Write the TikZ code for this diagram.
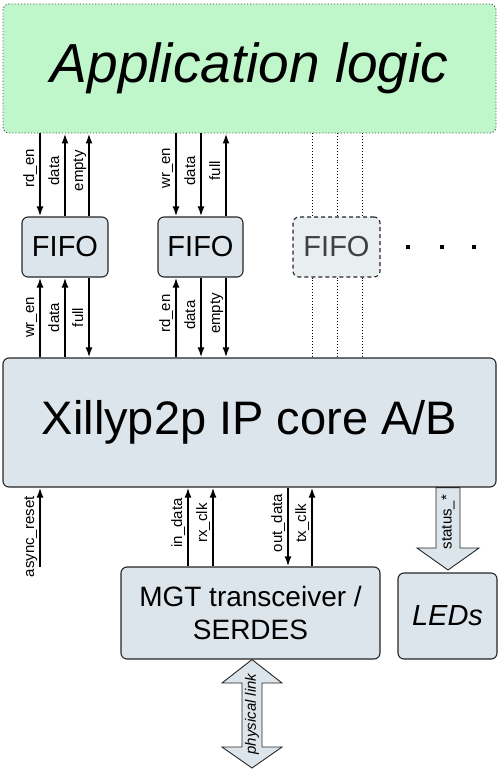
\documentclass[tikz,border=0pt]{standalone}
\usepackage{fontspec}
\setmainfont{Liberation Sans}
\usetikzlibrary{arrows.meta}
\definecolor{boxfill}{HTML}{DCE5EB}
\definecolor{appfill}{HTML}{BFF7CA}
\definecolor{ghostfill}{HTML}{E9EEF1}
\begin{document}
\begin{tikzpicture}[x=1pt,y=-1pt,
  blk/.style={draw=black!85, line width=1.1pt, fill=boxfill, rounded corners=6pt, inner sep=0pt},
  sig/.style={line width=1.9pt, -{Latex[length=10pt,width=7pt]}},
  lbl/.style={rotate=90, anchor=south, font=\fontsize{15}{17}\selectfont, inner sep=1pt, text depth=4pt},
  ghostline/.style={dotted, line width=0.9pt},
  fat/.style={draw=black!85, line width=0.9pt, fill=boxfill, line join=miter}]
\useasboundingbox (0,0) rectangle (500,773);

% blocks
\node[blk, fill=appfill, draw=black!70, dotted, line width=0.9pt, minimum width=493pt, minimum height=129pt,
      font=\fontsize{55}{60}\selectfont\itshape] (app) at (249.5,68.5) {Application logic};
\node[blk, minimum width=86pt, minimum height=60pt, font=\fontsize{29}{32}\selectfont] (fifo1) at (65,247) {FIFO};
\node[blk, minimum width=85pt, minimum height=60pt, font=\fontsize{29}{32}\selectfont] (fifo2) at (200.5,247) {FIFO};
\node[blk, dash pattern=on 4pt off 3pt, draw=black!85, fill=ghostfill, text=black!75, minimum width=87pt, minimum height=60pt, font=\fontsize{29}{32}\selectfont] (fifo3) at (336.5,247) {FIFO};
\node[blk, minimum width=493pt, minimum height=129pt, font=\fontsize{47}{52}\selectfont] (xil) at (249.5,422.5) {Xillyp2p IP core A/B};
\node[blk, minimum width=259pt, minimum height=92pt, align=center, font=\fontsize{28}{33}\selectfont] (mgt) at (250.5,613) {MGT transceiver /\\SERDES};
\node[blk, minimum width=99pt, minimum height=86pt, font=\fontsize{29}{32}\selectfont\itshape] (leds) at (447.5,616) {LEDs};

% FIFO 1 upper
\draw[sig] (app.south -| 40,0) -- (fifo1.north -| 40,0) node[lbl, pos=0.42] {rd\_en};
\draw[sig] (fifo1.north -| 65,0) -- (app.south -| 65,0) node[lbl, pos=0.55] {data};
\draw[sig] (fifo1.north -| 89,0) -- (app.south -| 89,0) node[lbl, pos=0.55] {empty};
% FIFO 1 lower
\draw[sig] (xil.north -| 40,0) -- (fifo1.south -| 40,0) node[lbl, midway] {wr\_en};
\draw[sig] (xil.north -| 65,0) -- (fifo1.south -| 65,0) node[lbl, midway] {data};
\draw[sig] (fifo1.south -| 89,0) -- (xil.north -| 89,0) node[lbl, midway] {full};
% FIFO 2 upper
\draw[sig] (app.south -| 176,0) -- (fifo2.north -| 176,0) node[lbl, pos=0.42] {wr\_en};
\draw[sig] (app.south -| 201,0) -- (fifo2.north -| 201,0) node[lbl, pos=0.45] {data};
\draw[sig] (fifo2.north -| 226,0) -- (app.south -| 226,0) node[lbl, pos=0.55] {full};
% FIFO 2 lower
\draw[sig] (xil.north -| 176,0) -- (fifo2.south -| 176,0) node[lbl, pos=0.55] {rd\_en};
\draw[sig] (fifo2.south -| 201,0) -- (xil.north -| 201,0) node[lbl, pos=0.47] {data};
\draw[sig] (fifo2.south -| 226,0) -- (xil.north -| 226,0) node[lbl, pos=0.45] {empty};
% ghost FIFO lines
\foreach \gx in {312,337,362} {
  \draw[ghostline] (app.south -| \gx,0) -- (fifo3.north -| \gx,0);
  \draw[ghostline] (fifo3.south -| \gx,0) -- (xil.north -| \gx,0);
}
% dots
\foreach \dx in {408,442,474} { \fill (\dx-2,245) rectangle (\dx+2,249); }

% bottom signals
\coordinate (ar) at (40,567);
\draw[sig] (ar) -- (xil.south -| ar) node[lbl, pos=0.38] {async\_reset};
\draw[sig] (mgt.north -| 188,0) -- (xil.south -| 188,0) node[lbl, pos=0.55] {in\_data};
\draw[sig] (mgt.north -| 213,0) -- (xil.south -| 213,0) node[lbl, pos=0.55] {rx\_clk};
\draw[sig] (xil.south -| 288,0) -- (mgt.north -| 288,0) node[lbl, pos=0.45] {out\_data};
\draw[sig] (mgt.north -| 312,0) -- (xil.south -| 312,0) node[lbl, pos=0.55] {tx\_clk};

% status fat arrow
\draw[fat] (xil.south -| 436,0) -- (436,548) -- (417,548) -- (448,570) -- (479,548) -- (460,548) -- (xil.south -| 460,0) -- cycle;
\node[rotate=90, font=\fontsize{15}{17}\selectfont] (st) at (448,522) {status\_*};

% physical link double arrow
\draw[fat] (mgt.south -| 252,0) -- (282,683) -- (262,683) -- (262,747) -- (282,747) -- (252,768)
  -- (222,747) -- (242,747) -- (242,683) -- (222,683) -- cycle;
\node[rotate=90, font=\fontsize{15}{17}\selectfont\itshape] (pl) at (252,714) {physical link};
\end{tikzpicture}
\end{document}
